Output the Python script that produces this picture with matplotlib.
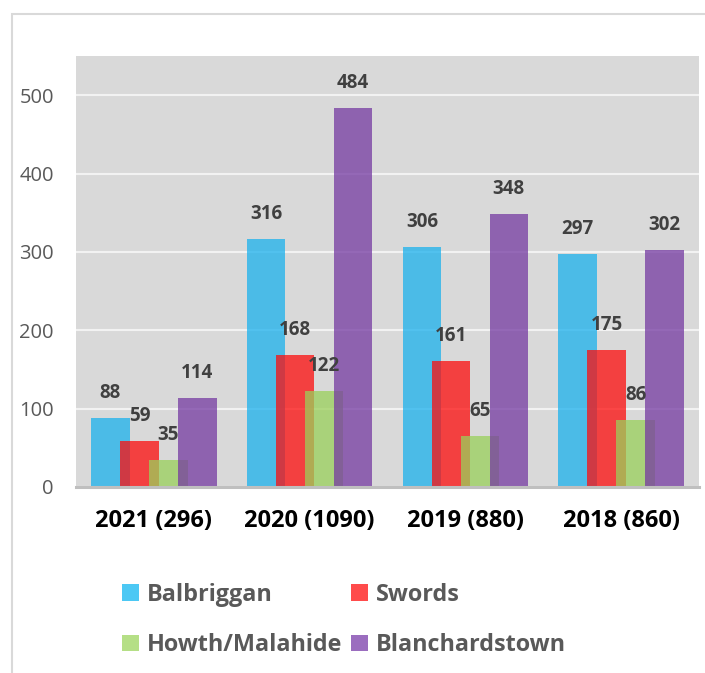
import matplotlib
matplotlib.use("Agg")
import matplotlib.pyplot as plt
import numpy as np
from matplotlib.patches import Patch, Rectangle

categories = ["2021 (296)", "2020 (1090)", "2019 (880)", "2018 (860)"]
series_names = ["Balbriggan", "Swords", "Howth/Malahide", "Blanchardstown"]
balbriggan = [88, 316, 306, 297]
swords = [59, 168, 161, 175]
howth_malahide = [35, 122, 65, 86]
blanchardstown = [114, 484, 348, 302]
yticks = [0, 100, 200, 300, 400, 500]

series = [balbriggan, swords, howth_malahide, blanchardstown]
colors = ["#1BB1ED", "#FD0D0D", "#9AD05A", "#753AA2"]
legend_colors = ["#4CC8F4", "#FF4B4B", "#B5DF86", "#9B6DBF"]

plt.rcParams["font.family"] = ["Open Sans", "DejaVu Sans"]

fig = plt.figure(figsize=(7.05, 6.73), dpi=100)
ax = fig.add_axes([76/705, 1-487/673, (699-76)/705, (487-56)/673])
ax.set_facecolor("#D9D9D9")

x = np.arange(len(categories))
width = 0.247
step = 0.186
for i, (vals, col) in enumerate(zip(series, colors)):
    pos = x + (i - 1.5) * step
    ax.bar(pos, vals, width=width, color=col, alpha=0.75, zorder=3 + i)
    for p, v in zip(pos, vals):
        ax.annotate(str(v), (p, v), xytext=(0, 18), textcoords="offset points",
                    ha="center", va="center", fontsize=13.5, fontweight="bold",
                    color="#404040", zorder=10)

ax.set_xlim(-0.5, 3.5)
ax.set_ylim(0, 550)
ax.set_yticks(yticks)
ax.set_yticklabels([str(t) for t in yticks], fontsize=14.5, color="#595959")
ax.set_xticks(x)
ax.set_xticklabels(categories, fontsize=17, fontweight="bold", color="black")
ax.tick_params(axis="y", length=0, pad=16)
ax.tick_params(axis="x", length=0, pad=16)
ax.yaxis.grid(True, color="#F2F2F2", lw=1.5, zorder=1)
ax.set_axisbelow(True)
for s in ["top", "right", "left"]:
    ax.spines[s].set_visible(False)
ax.spines["bottom"].set_color("#BFBFBF")
ax.spines["bottom"].set_linewidth(2.2)
ax.spines["bottom"].set_zorder(20)

# column-major order so rows read: Balbriggan, Swords / Howth/Malahide, Blanchardstown
order = [0, 2, 1, 3]
handles = [Patch(facecolor=legend_colors[k], edgecolor="none") for k in order]
labels = [series_names[k] for k in order]
leg = fig.legend(handles, labels, loc="center", bbox_to_anchor=(0.488, 1-620/673),
                 ncol=2, frameon=False, fontsize=16.8, handlelength=0.7, handleheight=0.7,
                 handletextpad=0.35, columnspacing=0.4, labelspacing=1.15)
for t in leg.get_texts():
    t.set_fontweight("bold")
    t.set_color("#595959")

fig.add_artist(Rectangle((12/705, -0.1), 1.0, (673-14)/673 + 0.1, transform=fig.transFigure,
                         fill=False, ec="#D9D9D9", lw=1.5))

fig.savefig("out.png", dpi=100, facecolor="white")
